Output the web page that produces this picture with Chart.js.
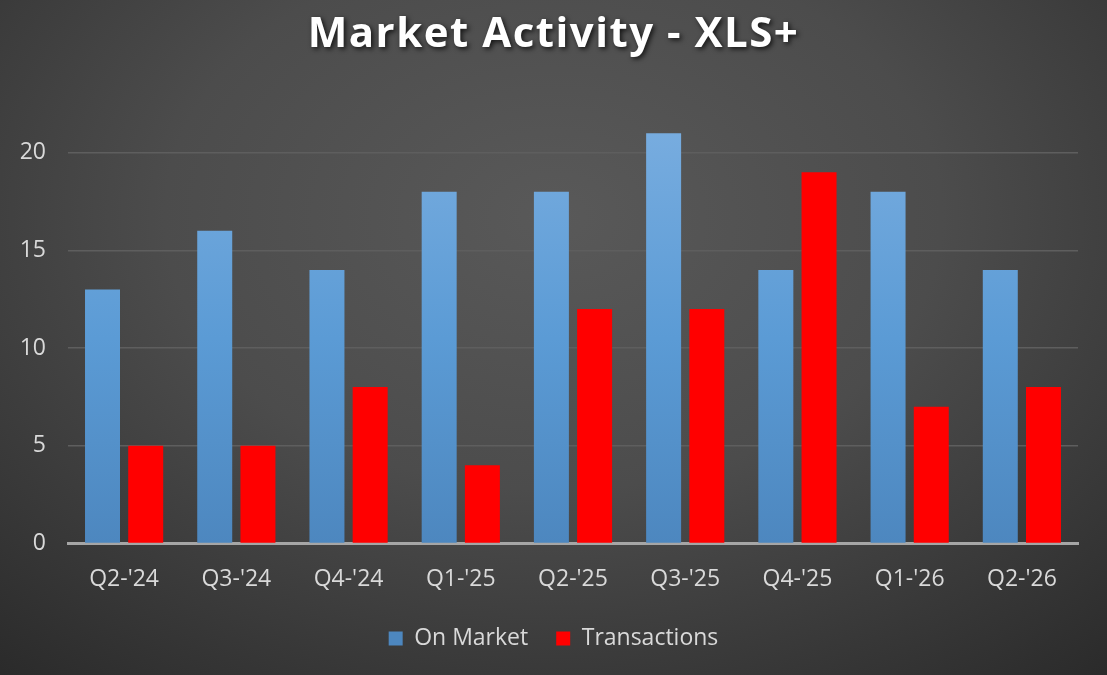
<!DOCTYPE html>
<html>
<head>
<meta charset="utf-8">
<script src="https://cdn.jsdelivr.net/npm/chart.js@4.4.1/dist/chart.umd.min.js"></script>
<style>
  html, body { margin: 0; padding: 0; }
  body {
    width: 1107px; height: 675px; overflow: hidden;
    background: radial-gradient(ellipse 78% 90% at 50% 32%, #595959 0%, #4c4c4c 45%, #2a2a2a 100%);
  }
  #wrap { position: relative; width: 1107px; height: 675px; }
</style>
</head>
<body>
<div id="wrap"><canvas id="chart"></canvas></div>
<script>
const quarters = ["Q2-'24", "Q3-'24", "Q4-'24", "Q1-'25", "Q2-'25", "Q3-'25", "Q4-'25", "Q1-'26", "Q2-'26"];
const onMarket = [13, 16, 14, 18, 18, 21, 14, 18, 14];
const transactions = [5, 5, 8, 4, 12, 12, 19, 7, 8];
const yTicks = [0, 5, 10, 15, 20];
const chartTitle = 'Market Activity - XLS+';

// title drawn by hand so it can get the soft drop shadow
const titlePlugin = {
  id: 'shadowTitle',
  afterDraw(chart) {
    const ctx = chart.ctx;
    ctx.save();
    ctx.font = 'bold 42px "Open Sans"';
    ctx.letterSpacing = '1.5px';
    ctx.fillStyle = '#ffffff';
    ctx.textAlign = 'center';
    ctx.textBaseline = 'middle';
    ctx.shadowColor = 'rgba(0,0,0,0.75)';
    ctx.shadowBlur = 5;
    ctx.shadowOffsetX = 2;
    ctx.shadowOffsetY = 2;
    ctx.fillText(chartTitle, chart.width / 2, 35);
    ctx.restore();
  }
};

function blueFill(context) {
  const chart = context.chart;
  const area = chart.chartArea;
  if (!area) return '#5b9bd5';
  const y = chart.scales.y;
  const g = chart.ctx.createLinearGradient(0, y.getPixelForValue(21), 0, y.getPixelForValue(0));
  g.addColorStop(0, '#77acdf');
  g.addColorStop(0.5, '#5b9bd5');
  g.addColorStop(1, '#4d87bf');
  return g;
}

const labelFont = { family: '"Open Sans"', size: 23 };

const ctx = document.getElementById('chart').getContext('2d');
new Chart(ctx, {
  type: 'bar',
  data: {
    labels: quarters,
    datasets: [
      {
        label: 'On Market',
        data: onMarket,
        backgroundColor: blueFill,
        borderWidth: 0
      },
      {
        label: 'Transactions',
        data: transactions,
        backgroundColor: '#ff0000',
        borderWidth: 0
      }
    ]
  },
  options: {
    responsive: true,
    maintainAspectRatio: false,
    animation: false,
    categoryPercentage: 0.77,
    barPercentage: 0.81,
    layout: { padding: { top: 55, left: 0, right: 0, bottom: 15 } },
    plugins: {
      title: { display: false },
      tooltip: { enabled: false },
      legend: {
        position: 'bottom',
        labels: {
          color: '#d9d9d9',
          font: labelFont,
          boxWidth: 14,
          boxHeight: 14,
          padding: 28
        }
      }
    },
    scales: {
      x: {
        afterFit(scale) {
          scale.height -= 16;
        },
        grid: { display: false, drawTicks: false },
        border: { display: true, color: '#a6a6a6', width: 3 },
        ticks: {
          color: '#d9d9d9',
          font: labelFont,
          padding: 22
        }
      },
      y: {
        min: 0,
        max: 25,
        afterBuildTicks(scale) {
          scale.ticks = yTicks.map(v => ({ value: v }));
        },
        afterFit(scale) {
          scale.width = 68;
        },
        grid: { color: '#5e5e5e', lineWidth: 1.5, drawTicks: false },
        border: { display: false },
        ticks: {
          color: '#d9d9d9',
          font: labelFont,
          padding: 22
        }
      },
      // empty right-hand axis, only keeps the plot off the right edge
      yRight: {
        position: 'right',
        min: 0,
        max: 25,
        afterFit(scale) {
          scale.width = 29;
        },
        grid: { drawOnChartArea: false, drawTicks: false },
        border: { display: false },
        ticks: { display: false }
      }
    }
  },
  plugins: [titlePlugin]
});
</script>
</body>
</html>
